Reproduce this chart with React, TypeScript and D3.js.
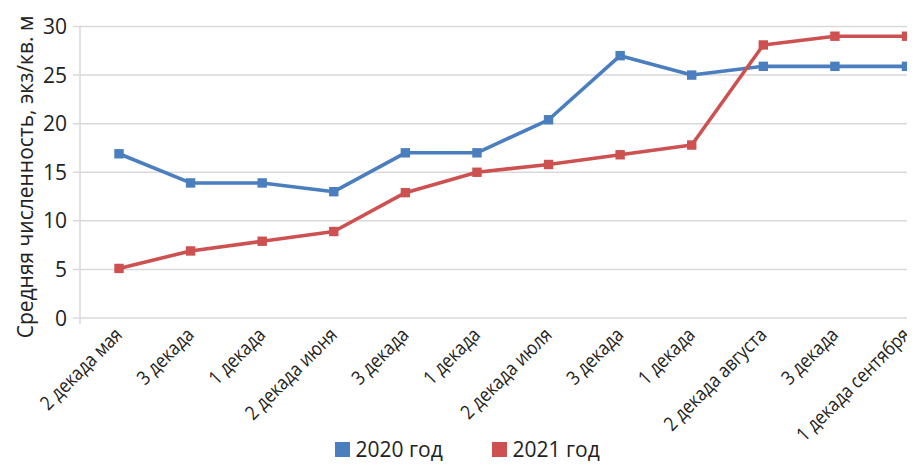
import React from "react";
import * as d3 from "d3";

const categories = [
  "2 декада мая",
  "3 декада",
  "1 декада",
  "2 декада июня",
  "3 декада",
  "1 декада",
  "2 декада июля",
  "3 декада",
  "1 декада",
  "2 декада августа",
  "3 декада",
  "1 декада сентября",
];
const values2020 = [16.9, 13.9, 13.9, 13.0, 17.0, 17.0, 20.4, 27.0, 25.0, 25.9, 25.9, 25.9];
const values2021 = [5.1, 6.9, 7.9, 8.9, 12.9, 15.0, 15.8, 16.8, 17.8, 28.1, 29.0, 29.0];
const yTicks = [0, 5, 10, 15, 20, 25, 30];
const seriesNames = ["2020 год", "2021 год"];

const W = 915;
const H = 470;
const FONT = "'Open Sans', 'Noto Sans', sans-serif";
const COLORS = ["#4A7EBF", "#CD5150"];
const GRID = "#D9D9D9";

export default function App() {
  const plotLeft = 80;
  const plotRight = 912;
  const y = d3.scaleLinear().domain([0, 30]).range([318, 26.5]);
  const x = d3.scalePoint<number>().domain(d3.range(categories.length)).range([119, 906.5]);

  const line = d3
    .line<number>()
    .x((_, i) => x(i) as number)
    .y((d) => y(d));

  const series = [values2020, values2021];

  return (
    <div style={{ margin: -8, width: W, height: H, background: "#fff" }}>
      <svg width={W} height={H} style={{ display: "block", fontFamily: FONT }}>
        <rect x={0} y={0} width={W} height={H} fill="#fff" />
        <line x1={0.75} x2={0.75} y1={0} y2={H} stroke="#E6E6E6" strokeWidth={1.5} />

        {/* horizontal gridlines */}
        {yTicks.map((t) => (
          <line
            key={t}
            x1={plotLeft - 7}
            x2={plotRight}
            y1={y(t)}
            y2={y(t)}
            stroke={GRID}
            strokeWidth={1.5}
          />
        ))}
        {/* vertical axis line */}
        <line x1={plotLeft} x2={plotLeft} y1={y(30)} y2={y(0) + 6} stroke={GRID} strokeWidth={1.5} />

        {/* y tick labels */}
        {yTicks.map((t) => (
          <text
            key={t}
            x={67}
            y={y(t)}
            dy="0.36em"
            textAnchor="end"
            fontSize={21}
            fill="#222"
          >
            {t}
          </text>
        ))}

        {/* y axis title */}
        <text
          transform={`translate(33, 177) rotate(-90)`}
          textAnchor="middle"
          fontSize={21}
          fill="#222"
        >
          Средняя численность, экз/кв. м
        </text>

        {/* x category labels, condensed horizontally */}
        {categories.map((c, i) => (
          <text
            key={i}
            transform={`translate(${(x(i) as number) + 4.5}, 336) rotate(-45) scale(0.87, 1)`}
            textAnchor="end"
            fontSize={19.5}
            fill="#222"
          >
            {c}
          </text>
        ))}

        {/* series lines and markers */}
        {series.map((vals, s) => (
          <g key={s}>
            <path d={line(vals) ?? ""} fill="none" stroke={COLORS[s]} strokeWidth={3.6} strokeLinejoin="round" />
            {vals.map((v, i) => (
              <rect
                key={i}
                x={(x(i) as number) - 4.7}
                y={y(v) - 4.7}
                width={9.4}
                height={9.4}
                fill={COLORS[s]}
              />
            ))}
          </g>
        ))}

        {/* legend */}
        {seriesNames.map((n, s) => {
          const lx = s === 0 ? 335 : 492;
          return (
            <g key={n}>
              <rect x={lx} y={442} width={15} height={15} fill={COLORS[s]} />
              <text x={lx + 20.5} y={456.5} fontSize={21} fill="#222">
                {n}
              </text>
            </g>
          );
        })}
      </svg>
    </div>
  );
}
